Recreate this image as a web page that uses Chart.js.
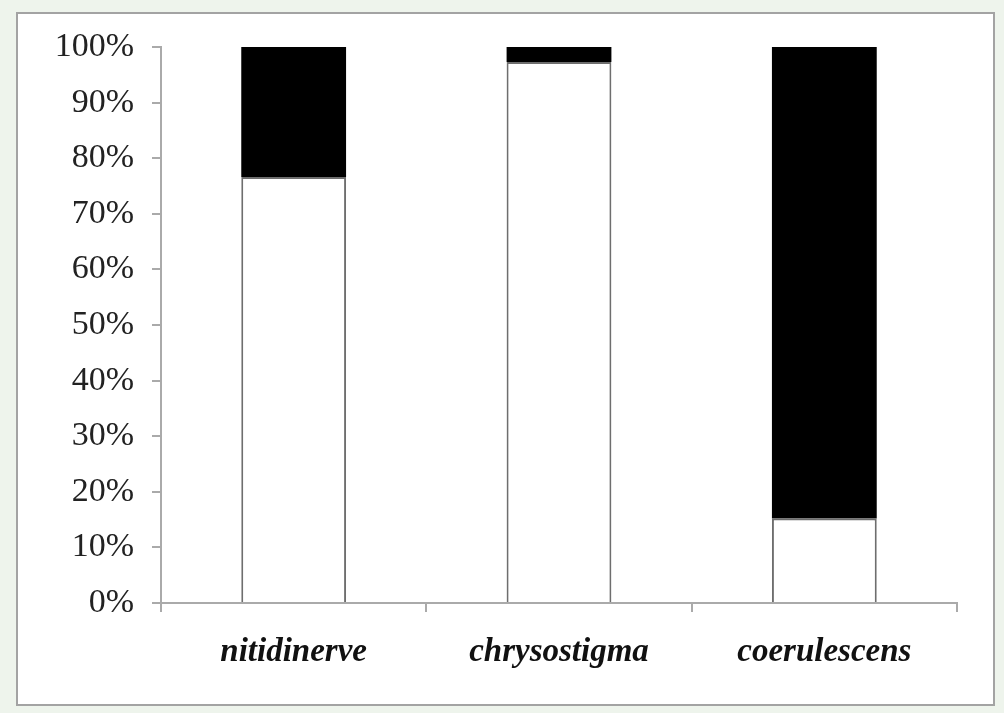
<!DOCTYPE html>
<html>
<head>
<meta charset="utf-8">
<script src="https://cdn.jsdelivr.net/npm/chart.js@4"></script>
<style>
  html, body { margin: 0; padding: 0; background: #eef4ec; }
  #frame {
    position: absolute; left: 16px; top: 12px;
    width: 975px; height: 690px;
    border: 2px solid #a3a3a3; background: #fff;
  }
  #chart { position: absolute; left: 0; top: 0; }
</style>
</head>
<body>
<div id="frame"></div>
<canvas id="chart" width="1004" height="713"></canvas>
<script>
// Data
const species = ['nitidinerve', 'chrysostigma', 'coerulescens'];
const lowerShare = [76.6, 97.3, 15.2];   // white part
const upperShare = [23.4, 2.7, 84.8];    // black part

const ctx = document.getElementById('chart').getContext('2d');

new Chart(ctx, {
  type: 'bar',
  data: {
    labels: species,
    datasets: [
      {
        label: 'white',
        data: lowerShare,
        backgroundColor: '#ffffff',
        borderColor: '#6e6e6e',
        borderWidth: 2,
        borderSkipped: 'bottom'
      },
      {
        label: 'black',
        data: upperShare,
        backgroundColor: '#000000',
        borderColor: '#000000',
        borderWidth: 0
      }
    ]
  },
  options: {
    responsive: false,
    animation: false,
    layout: { padding: { top: 47, right: 47, bottom: 0, left: 0 } },
    datasets: { bar: { barPercentage: 0.395, categoryPercentage: 1 } },
    plugins: { legend: { display: false }, tooltip: { enabled: false } },
    scales: {
      x: {
        stacked: true,
        afterFit: (scale) => { scale.height = 110; },
        grid: { drawOnChartArea: false, color: '#aaaaaa', lineWidth: 2, tickLength: 9 },
        border: { color: '#aaaaaa', width: 2 },
        ticks: {
          padding: 21,
          color: '#111',
          font: { family: '"Liberation Serif", "Times New Roman", serif', size: 33, style: 'italic', weight: 'bold' }
        }
      },
      y: {
        stacked: true,
        min: 0,
        max: 100,
        afterFit: (scale) => { scale.width = 161; },
        grid: { drawOnChartArea: false, color: '#aaaaaa', lineWidth: 2, tickLength: 9 },
        border: { color: '#aaaaaa', width: 2 },
        ticks: {
          stepSize: 10,
          padding: 18,
          color: '#222',
          font: { family: '"Liberation Serif", "Times New Roman", serif', size: 34 },
          callback: (v) => v + '%'
        }
      }
    }
  }
});
</script>
</body>
</html>
